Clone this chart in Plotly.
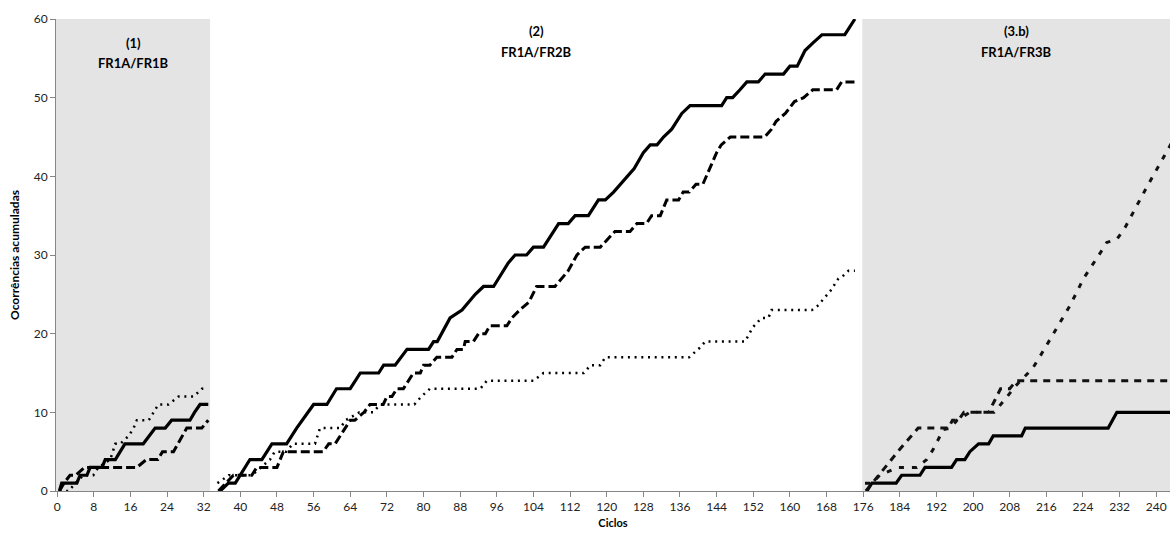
import plotly.graph_objects as go

# ---------------- data (cycle, cumulative occurrences) ----------------
# Panel (1) FR1A/FR1B
p1_solid_x = [0.5, 1, 4.3, 5, 6.5, 7.2, 9.8, 10.5, 12.7, 14.8, 18.8, 20, 21.4, 23.6, 25, 29, 30, 31.2, 33]
p1_solid_y = [0, 1, 1, 2, 2, 3, 3, 4, 4, 6, 6, 7, 8, 8, 9, 9, 10, 11, 11]
p1_dash_x = [0.5, 1.5, 2.8, 4, 6, 17.4, 19.5, 22, 23, 25.4, 28.3, 31.6, 33]
p1_dash_y = [0, 1, 2, 2, 3, 3, 4, 4, 5, 5, 8, 8, 9]
p1_dot_x = [0.5, 2.5, 4, 5.7, 7.9, 9, 11.6, 12.7, 13.8, 15.6, 16.7, 17.4, 20, 21, 22.1, 24.3, 26.5, 29.8, 31.6, 32.5]
p1_dot_y = [0, 0, 1, 2, 2, 3, 4, 6, 6, 7, 8, 9, 9, 10, 11, 11, 12, 12, 13, 13]

# Panel (2) FR1A/FR2B
p2_solid_x = [35.6, 37.4, 38.9, 42.1, 44.7, 46.9, 50.1, 52.3, 56, 58.9, 61, 64, 66.2, 70.2, 71.3, 73.8,
              76.4, 81.1, 82.2, 83, 85.8, 88.4, 91.3, 93.1, 95.3, 98.5, 100, 102.5, 104, 106.2, 109.5,
              111.6, 113.1, 116, 118.2, 119.7, 121.5, 124.5, 126, 128, 129.5, 131, 132.4, 134.2, 136.4,
              138.2, 145.1, 146.2, 147.5, 149.1, 150.6, 153.1, 154.6, 158.6, 160, 161.6, 163.3, 165.1,
              167, 172, 173.1, 174.2]
p2_solid_y = [0, 1, 1, 4, 4, 6, 6, 8, 11, 11, 13, 13, 15, 15, 16, 16,
              18, 18, 19, 19, 22, 23, 25, 26, 26, 29, 30, 30, 31, 31, 34,
              34, 35, 35, 37, 37, 38, 40, 41, 43, 44, 44, 45, 46, 48,
              49, 49, 50, 50, 51, 52, 52, 53, 53, 54, 54, 56, 57,
              58, 58, 59, 60]
p2_dash_x = [35.2, 38.5, 42.5, 43.6, 48, 49.4, 58.1, 59.3, 60.7, 64, 65, 67, 68.3, 71.2, 72, 73.1, 74.2,
             75.6, 77.8, 79.3, 80, 81.4, 82.9, 86.2, 87.3, 88.7, 89.1, 90.9, 92, 93.5, 94.5, 98.2, 99.3,
             101, 103, 104.7, 108.7, 111.6, 113.5, 115.3, 118.6, 121.8, 125.1, 126.6, 128.7, 129.8,
             131.7, 133.1, 135.7, 136.7, 138, 139.5, 141, 144, 145, 147, 154.5, 156, 157, 159, 161,
             163, 165, 170.2, 171.3, 174.6]
p2_dash_y = [0, 2, 2, 3, 3, 5, 5, 6, 6, 9, 9, 10, 11, 11, 12, 12, 13,
             13, 15, 15, 16, 16, 17, 17, 18, 18, 19, 19, 20, 20, 21, 21, 22,
             23, 24, 26, 26, 28, 30, 31, 31, 33, 33, 34, 34, 35,
             35, 37, 37, 38, 38, 39, 39, 43, 44, 45, 45, 46, 47, 48, 49.5,
             50, 51, 51, 52, 52]
p2_dot_x = [35, 37.5, 42.5, 44.5, 46.5, 47.5, 50, 51.5, 56.3, 57.4, 61.8, 63, 66, 69, 70.5, 78, 79.5,
            81.4, 92.4, 93.8, 104, 106.2, 115, 116.5, 118.6, 119.7, 138, 140.5, 141.5, 150.2, 151.9,
            153.8, 155.3, 156, 164.8, 166, 168.8, 170.6, 171.7, 172.8, 174.2]
p2_dot_y = [1, 2, 2, 3, 4, 5, 5, 6, 6, 8, 8, 9, 10, 10, 11, 11, 12,
            13, 13, 14, 14, 15, 15, 16, 16, 17, 17, 18.3, 19, 19, 20.8,
            22, 22, 23, 23, 23.5, 25.4, 27, 27.4, 28, 28]

# Panel (3.b) FR1A/FR3B
p3_solid_x = [176.8, 177.9, 183.2, 184.4, 188.4, 189.5, 195.3, 196.4, 198.2, 199.3, 201.2, 203.4, 204.4,
              210.6, 211.4, 229.5, 231.4, 243.5]
p3_solid_y = [0, 1, 1, 2, 2, 3, 3, 4, 4, 5, 6, 6, 7, 7, 8, 8, 10, 10]
p3_dash_x = [176.6, 178, 180, 184, 188, 194.6, 195.5, 196.8, 198, 203.4, 204.8, 206, 208, 209.4, 243.5]
p3_dash_y = [0, 1, 2.5, 5.3, 8, 8, 9, 9, 10, 10, 11.6, 13, 13, 14, 14]
p3_dot_x = [176.4, 178, 179.6, 182.6, 183.5, 187.7, 189.9, 191.3, 192.4, 193.5, 195, 196.5, 199.3, 204.6,
            206.9, 209.2, 213, 214.6, 221.2, 224.1, 227.7, 229.2, 231.4, 233.2, 237.9, 242.6, 243.5]
p3_dot_y = [1, 1, 2, 2.7, 3, 3, 4, 5.3, 6.5, 7.8, 8, 9, 10, 10,
            11.6, 13.3, 15.6, 17.1, 23.6, 27, 30.2, 31.6, 32, 33.5, 38.6, 43.4, 44.4]

panel_bounds = [(-0.25, 33.4), (33.4, 175.8), (175.8, 243.5)]
panel_shaded = [True, False, True]
panel_titles = [("(1)", "FR1A/FR1B"), ("(2)", "FR1A/FR2B"), ("(3.b)", "FR1A/FR3B")]
panel_title_y = [(56.9, 54.4), (58.5, 55.8), (58.5, 55.8)]

x_ticks = list(range(0, 241, 8))
y_ticks = list(range(0, 61, 10))

# ---------------- figure ----------------
FONT = "Lato, 'Open Sans', sans-serif"
fig = go.Figure()

SOLID = dict(color="#000000", width=3.2)
DASH = dict(color="#000000", width=3, dash="9px,4px")
DOT = dict(color="#000000", width=2.5, dash="2px,4.7px")
DASH3 = dict(color="#111111", width=3, dash="7px,6px")
DOT3 = dict(color="#111111", width=3, dash="5px,8px")

series = [
    (p1_solid_x, p1_solid_y, SOLID), (p1_dash_x, p1_dash_y, DASH), (p1_dot_x, p1_dot_y, DOT),
    (p2_solid_x, p2_solid_y, SOLID), (p2_dash_x, p2_dash_y, DASH), (p2_dot_x, p2_dot_y, DOT),
    (p3_solid_x, p3_solid_y, SOLID), (p3_dash_x, p3_dash_y, DASH3), (p3_dot_x, p3_dot_y, DOT3),
]
for xs, ys, ln in series:
    fig.add_trace(go.Scatter(x=xs, y=ys, mode="lines", line=ln, showlegend=False, hoverinfo="skip"))

for (x0, x1), shaded in zip(panel_bounds, panel_shaded):
    if shaded:
        fig.add_shape(type="rect", xref="x", yref="y", x0=x0, x1=x1, y0=0, y1=60,
                      fillcolor="#e4e4e4", line=dict(width=0), layer="below")

for (x0, x1), (t1, t2), (y1, y2) in zip(panel_bounds, panel_titles, panel_title_y):
    xc = (max(x0, 0) + min(x1, 243)) / 2
    fig.add_annotation(x=xc, y=y1, xref="x", yref="y", text="<b>%s</b>" % t1, showarrow=False,
                       font=dict(family=FONT, size=13, color="#000000"))
    fig.add_annotation(x=xc, y=y2, xref="x", yref="y", text="<b>%s</b>" % t2, showarrow=False,
                       font=dict(family=FONT, size=13, color="#000000"))

fig.update_layout(
    width=1170, height=544,
    margin=dict(l=56, r=0, t=19, b=53),
    paper_bgcolor="white", plot_bgcolor="white",
    font=dict(family=FONT, size=12, color="#222222"),
    xaxis=dict(range=[-0.25, 243.0], tickvals=x_ticks, ticktext=[str(v) for v in x_ticks],
               showgrid=False, zeroline=False, showline=True, linecolor="#868686", linewidth=1,
               ticks="outside", ticklen=5, tickcolor="#868686",
               tickfont=dict(family=FONT, size=12, color="#222222"),
               title=dict(text="<b>Ciclos</b>", font=dict(family=FONT, size=11, color="#000000"),
                          standoff=5)),
    yaxis=dict(range=[0, 60], tickvals=y_ticks, ticktext=[str(v) for v in y_ticks],
               showgrid=False, zeroline=False, showline=True, linecolor="#868686", linewidth=1,
               ticks="outside", ticklen=5, tickcolor="#868686",
               tickfont=dict(family=FONT, size=12, color="#222222"),
               title=dict(text="<b>Ocorrências acumuladas</b>",
                          font=dict(family=FONT, size=12, color="#000000"), standoff=11)),
)

fig.write_html("out.html")
